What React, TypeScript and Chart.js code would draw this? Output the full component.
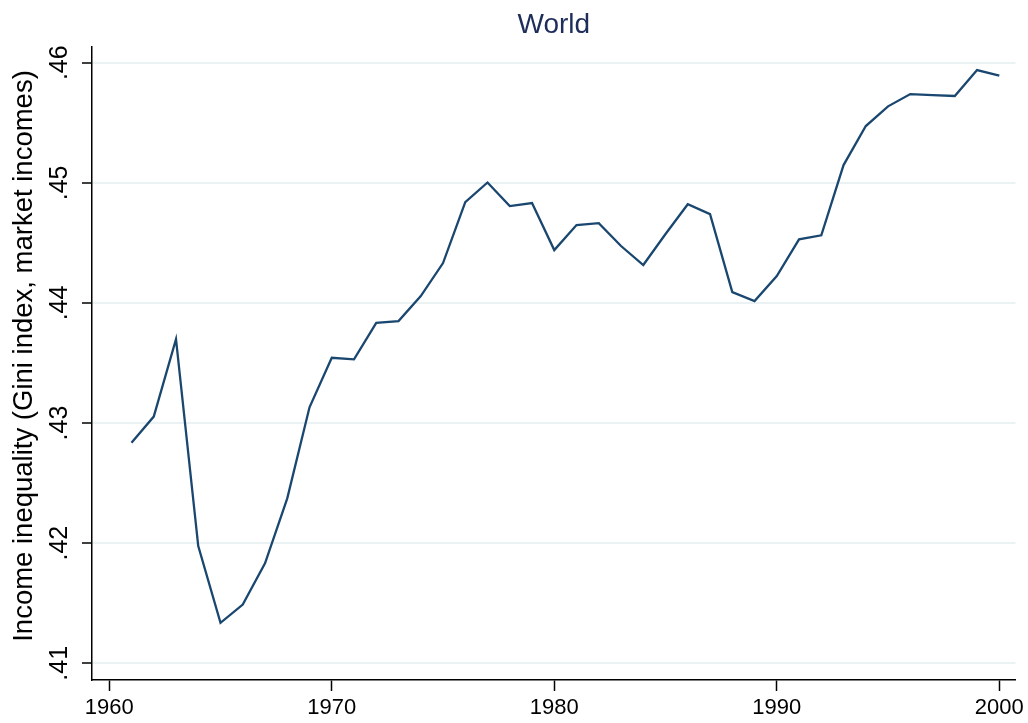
import React, { useEffect, useRef } from "react";
import { Chart, registerables } from "chart.js";

Chart.register(...registerables);

const years: number[] = [
  1961, 1962, 1963, 1964, 1965, 1966, 1967, 1968, 1969, 1970,
  1971, 1972, 1973, 1974, 1975, 1976, 1977, 1978, 1979, 1980,
  1981, 1982, 1983, 1984, 1985, 1986, 1987, 1988, 1989, 1990,
  1991, 1992, 1993, 1994, 1995, 1996, 1997, 1998, 1999, 2000,
];

const gini: number[] = [
  0.42836, 0.43054, 0.43699, 0.41976, 0.41337, 0.41489, 0.41832, 0.42373, 0.43131, 0.43544,
  0.4353, 0.43835, 0.43849, 0.44057, 0.44332, 0.4484, 0.45003, 0.44807, 0.44832, 0.4444,
  0.44649, 0.44665, 0.44474, 0.44316, 0.44574, 0.44822, 0.4474, 0.44091, 0.44016, 0.44224,
  0.4453, 0.44563, 0.45148, 0.45473, 0.45637, 0.45739, 0.45731, 0.45723, 0.45939, 0.45893,
];

const xTicks: number[] = [1960, 1970, 1980, 1990, 2000];
const yTicks: number[] = [0.41, 0.42, 0.43, 0.44, 0.45, 0.46];
const yTickLabels: string[] = [".41", ".42", ".43", ".44", ".45", ".46"];

const titleText = "World";
const yTitleText = "Income inequality (Gini index, market incomes)";

const FONT = "'Liberation Sans', Arial, Helvetica, sans-serif";

export default function App() {
  const ref = useRef<HTMLCanvasElement | null>(null);

  useEffect(() => {
    if (!ref.current) return;

    const textPlugin = {
      id: "stataText",
      afterDraw(chart: any) {
        const ctx = chart.ctx as CanvasRenderingContext2D;
        const yScale = chart.scales.y;
        ctx.save();
        ctx.fillStyle = "#000000";
        ctx.font = `25px ${FONT}`;
        ctx.textAlign = "center";
        ctx.textBaseline = "bottom";
        yTicks.forEach((v, i) => {
          const py = yScale.getPixelForValue(v);
          ctx.save();
          ctx.translate(73, py);
          ctx.rotate(-Math.PI / 2);
          ctx.fillText(yTickLabels[i], 0, 0);
          ctx.restore();
        });
        ctx.font = `27.5px ${FONT}`;
        ctx.textBaseline = "middle";
        ctx.save();
        ctx.translate(24, 356);
        ctx.rotate(-Math.PI / 2);
        ctx.fillText(yTitleText, 0, 0);
        ctx.restore();
        ctx.restore();
      },
    };

    const chart = new Chart(ref.current, {
      type: "line",
      data: {
        datasets: [
          {
            data: years.map((yr, i) => ({ x: yr, y: gini[i] })),
            borderColor: "#1a476f",
            borderWidth: 2.3,
            pointRadius: 0,
            fill: false,
            tension: 0,
          },
        ],
      },
      options: {
        animation: false,
        responsive: false,
        maintainAspectRatio: false,
        layout: { padding: { left: 0, right: 10, top: 0, bottom: 0 } },
        plugins: {
          legend: { display: false },
          tooltip: { enabled: false },
          title: {
            display: true,
            text: titleText,
            fullSize: false,
            color: "#1e2d5a",
            font: { family: FONT, size: 28, weight: "normal", lineHeight: 1.2 },
            padding: { top: 8, bottom: 5.4 },
          },
        },
        scales: {
          x: {
            type: "linear",
            min: 1959.225,
            max: 2000.73,
            afterBuildTicks: (scale: any) => {
              scale.ticks = xTicks.map((v) => ({ value: v }));
            },
            afterFit: (scale: any) => {
              scale.height = 43;
            },
            ticks: {
              color: "#000000",
              font: { family: FONT, size: 22 },
              padding: 4,
              maxRotation: 0,
              minRotation: 0,
              callback: (v: any) => String(v),
            },
            grid: {
              display: true,
              drawOnChartArea: false,
              drawTicks: true,
              tickLength: 11,
              tickColor: "#000000",
              tickWidth: 1.5,
            },
            border: { display: true, color: "#000000", width: 1.5 },
          },
          y: {
            type: "linear",
            min: 0.40861,
            max: 0.46131,
            afterBuildTicks: (scale: any) => {
              scale.ticks = yTicks.map((v) => ({ value: v }));
            },
            afterFit: (scale: any) => {
              scale.width = 92;
            },
            ticks: { display: false },
            grid: {
              display: true,
              color: "#eaf2f3",
              lineWidth: 2,
              drawTicks: true,
              tickLength: 10,
              tickColor: "#000000",
              tickWidth: 1.5,
            },
            border: { display: true, color: "#000000", width: 1.5 },
          },
        },
      },
      plugins: [textPlugin],
    });

    return () => chart.destroy();
  }, []);

  return (
    <div style={{ position: "fixed", left: 0, top: 0, width: 1028, height: 723, background: "#ffffff" }}>
      <canvas ref={ref} width={1028} height={723} style={{ display: "block", width: 1028, height: 723 }} />
    </div>
  );
}
